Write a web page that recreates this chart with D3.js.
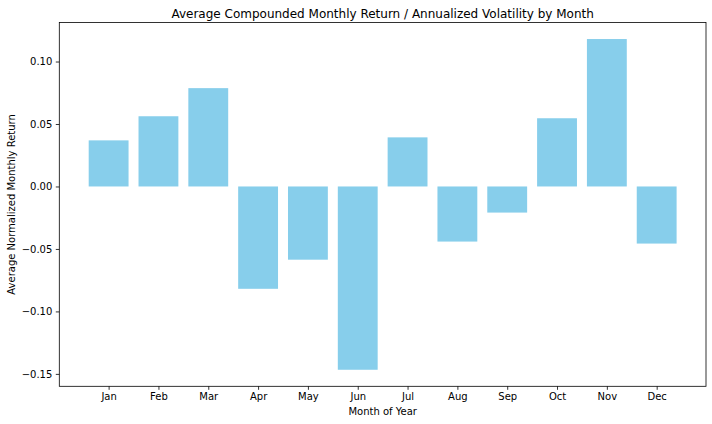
<!DOCTYPE html>
<html>
<head>
<meta charset="utf-8">
<script src="https://cdn.jsdelivr.net/npm/d3@7"></script>
<style>
  html, body { margin: 0; padding: 0; background: #fff; }
  svg { display: block; font-family: "DejaVu Sans", sans-serif; }
</style>
</head>
<body>
<svg id="chart" width="712" height="424"></svg>
<script>
const months = ["Jan","Feb","Mar","Apr","May","Jun","Jul","Aug","Sep","Oct","Nov","Dec"];
const values = [0.0369, 0.0562, 0.0787, -0.0819, -0.0586, -0.1467, 0.0393, -0.0441, -0.0209, 0.0546, 0.1180, -0.0457];
const yTicks = [-0.15, -0.10, -0.05, 0.00, 0.05, 0.10];
const titleText = "Average Compounded Monthly Return / Annualized Volatility by Month";
const xLabel = "Month of Year";
const yLabel = "Average Normalized Monthly Return";

const svg = d3.select("#chart");
const L = 59.3, R = 706, T = 22.5, B = 386.3;

const barW = 0.8;
const n = months.length;
const xPad = 0.05 * (n - 1 + barW);
const x = d3.scaleLinear().domain([-barW/2 - xPad, n - 1 + barW/2 + xPad]).range([L, R]);

const dMin = Math.min(0, d3.min(values)), dMax = Math.max(0, d3.max(values));
const yPad = 0.05 * (dMax - dMin);
const y = d3.scaleLinear().domain([dMin - yPad, dMax + yPad]).range([B, T]);

// bars
svg.append("g").selectAll("rect").data(values).join("rect")
  .attr("x", (d, i) => x(i - barW/2))
  .attr("width", (d, i) => x(i + barW/2) - x(i - barW/2))
  .attr("y", d => y(Math.max(0, d)))
  .attr("height", d => Math.abs(y(d) - y(0)))
  .attr("fill", "#87CEEB");

// axes
const fmt = d3.format(".2f");
const yAxis = d3.axisLeft(y).tickValues(yTicks).tickFormat(fmt).tickSize(3.5).tickPadding(3.5);
const xAxis = d3.axisBottom(x).tickValues(d3.range(n)).tickFormat(i => months[i]).tickSize(3.5).tickPadding(3.5);

const gy = svg.append("g").attr("transform", `translate(${L},0)`).call(yAxis);
const gx = svg.append("g").attr("transform", `translate(0,${B})`).call(xAxis);
[gx, gy].forEach(g => {
  g.select(".domain").remove();
  g.selectAll(".tick line").attr("stroke", "#000").attr("stroke-width", 0.8);
  g.selectAll(".tick text").attr("fill", "#000").style("font-size", "10px").style("font-family", "DejaVu Sans");
});

// spines
svg.append("rect").attr("x", L).attr("y", T).attr("width", R - L).attr("height", B - T)
  .attr("fill", "none").attr("stroke", "#000").attr("stroke-width", 0.8);

// title and labels
svg.append("text").attr("x", (L + R) / 2).attr("y", 17.5).attr("text-anchor", "middle")
  .style("font-size", "12px").attr("fill", "#000").text(titleText);
svg.append("text").attr("x", (L + R) / 2).attr("y", 415).attr("text-anchor", "middle")
  .style("font-size", "10px").attr("fill", "#000").text(xLabel);
svg.append("text").attr("transform", `translate(15,${(T + B) / 2}) rotate(-90)`).attr("text-anchor", "middle")
  .style("font-size", "10px").attr("fill", "#000").text(yLabel);
</script>
</body>
</html>
